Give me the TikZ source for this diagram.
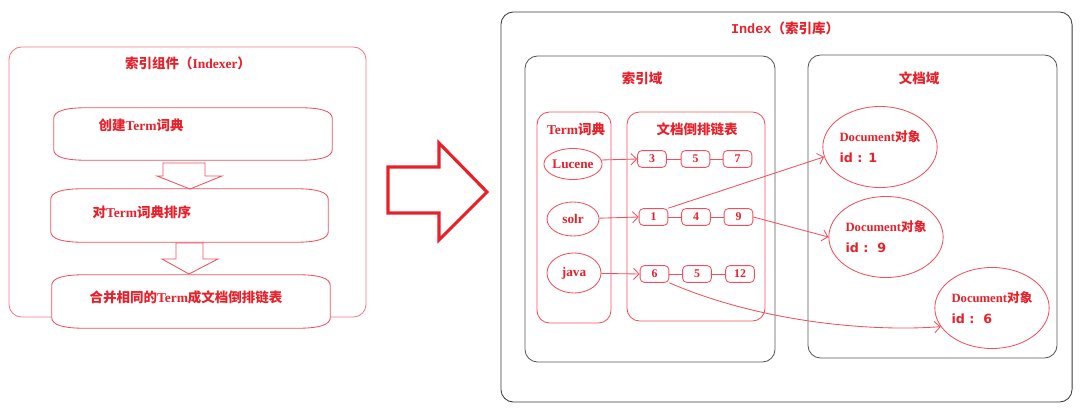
\documentclass[tikz,border=0pt]{standalone}
\usepackage{fontspec}
\setmainfont{Liberation Serif}
\newfontfamily\cjk{Noto Sans CJK SC}
\newfontfamily\idfont{DejaVu Sans}
\newfontfamily\monofont{Liberation Mono}
\definecolor{idxred}{HTML}{E8202A}
\definecolor{idxline}{HTML}{F0505E}
\definecolor{idxpink}{HTML}{F27B86}
\definecolor{idxgray}{HTML}{3A3A3A}
\usetikzlibrary{shapes.geometric,arrows.meta,calc}

% flow box with bowed top and bottom
\newcommand{\scrollbox}[1]{%
  \draw[draw=idxline, fill=white, line width=0.6pt]
    ($(#1.north west)+(0,11)$) .. controls ($(#1.north west)+(0,3)$) and ($(#1.north west)+(12,0)$) .. ($(#1.north west)+(34,0)$)
    -- ($(#1.north east)+(-34,0)$) .. controls ($(#1.north east)+(-12,0)$) and ($(#1.north east)+(0,3)$) .. ($(#1.north east)+(0,11)$)
    -- ($(#1.south east)+(0,-11)$) .. controls ($(#1.south east)+(0,-3)$) and ($(#1.south east)+(-12,0)$) .. ($(#1.south east)+(-34,0)$)
    -- ($(#1.south west)+(34,0)$) .. controls ($(#1.south west)+(12,0)$) and ($(#1.south west)+(0,-3)$) .. ($(#1.south west)+(0,-11)$)
    -- cycle;}

\begin{document}
\begin{tikzpicture}[
  x=0.025cm, y=-0.025cm,
  lbl/.style={font=\fontsize{9.6}{11}\selectfont\bfseries, text=idxred, inner sep=1pt},
  frame/.style={draw=idxgray, rounded corners=9pt, line width=0.6pt},
  redframe/.style={draw=idxline, rounded corners=9pt, line width=0.6pt},
  term/.style={ellipse, draw=idxline, line width=0.6pt, inner sep=0pt,
    font=\fontsize{9.4}{11}\selectfont\bfseries, text=idxred},
  post/.style={draw=idxline, rounded corners=3pt, line width=0.6pt, inner sep=0pt,
    minimum width=0.72cm, minimum height=0.42cm, font=\fontsize{8.4}{10}\selectfont\bfseries, text=idxred},
  doc/.style={ellipse, draw=idxline, line width=0.6pt, minimum width=2.775cm, minimum height=2.025cm,
    inner sep=0pt, align=left, font=\fontsize{9}{15}\selectfont\bfseries, text=idxred},
  link/.style={draw=idxline, line width=0.6pt},
  ptr/.style={-{Straight Barb[length=4pt,width=8pt]}, draw=idxline, line width=0.6pt},
  hollow/.style={draw=idxline, line width=0.6pt, line join=miter}
]
  \useasboundingbox (0,0) rectangle (1080,412);

  % Left: indexer steps
  \node[redframe, draw=idxpink, minimum width=8.925cm, minimum height=6.75cm] (indexer) at (187.5,182) {};
  \node[lbl] (indexertitle) at (188,63) {{\cjk 索引组件（}Indexer{\cjk ）}};

  \node[minimum width=6.95cm, minimum height=1.3cm] (s1) at (193,134) {};
  \node[minimum width=6.925cm, minimum height=1.325cm] (s2) at (189.5,215.5) {};
  \node[minimum width=6.95cm, minimum height=1.325cm] (s3) at (191,301.5) {};
  \scrollbox{s1}
  \scrollbox{s2}
  \scrollbox{s3}
  \node[lbl, anchor=west] (s1txt) at (97,125) {{\cjk 创建}Term{\cjk 词典}};
  \node[lbl, anchor=west] (s2txt) at (91,212) {{\cjk 对}Term{\cjk 词典排序}};
  \node[lbl] (s3txt) at (186,297) {{\cjk 合并相同的}Term{\cjk 成文档倒排链表}};

  % hollow step arrows
  \draw[hollow] (163,163) -- (205,163) -- (205,176) -- (222,176) -- (190,189)
    -- (157,176) -- (163,176) -- cycle;
  \draw[hollow] (176,243) -- (203,243) -- (203,259) -- (218,259) -- (189,274)
    -- (162,259) -- (176,259) -- cycle;

  % big arrow
  \draw[draw=idxred, line width=2.2pt, line join=miter] (388,167) -- (439,167) -- (439,143)
    -- (487,192) -- (439,240) -- (439,213) -- (388,213) -- cycle;

  % Right: index
  \node[frame, minimum width=14.275cm, minimum height=9.75cm] (index) at (786.5,207) {};
  \node[lbl] (indextitle) at (785,28) {{\monofont Index}{\cjk （索引库）}};

  \node[frame, draw=idxgray!85, minimum width=6.25cm, minimum height=7.65cm] (idxfield) at (650,209) {};
  \node[lbl] (idxfieldtitle) at (642,78) {\cjk 索引域};
  \node[frame, draw=idxgray!85, minimum width=6.225cm, minimum height=7.575cm] (docfield) at (932.5,206.5) {};
  \node[lbl] (docfieldtitle) at (919,78) {\cjk 文档域};

  \node[redframe, minimum width=1.85cm, minimum height=5.275cm] (termbox) at (574,217.5) {};
  \node[lbl] (termtitle) at (576,129) {Term{\cjk 词典}};
  \node[redframe, minimum width=3.45cm, minimum height=5.225cm] (postbox) at (696,216.5) {};
  \node[lbl] (posttitle) at (697,129) {\cjk 文档倒排链表};

  % terms
  \node[term, minimum width=1.2cm, minimum height=0.775cm] (lucene) at (573,164) {Lucene};
  \node[term, minimum width=1.3cm, minimum height=0.85cm] (solr) at (573,219) {solr};
  \node[term, minimum width=1.35cm, minimum height=1.0cm] (java) at (574,273) {java};

  % posting lists
  \node[post] (p11) at (652,159) {3};
  \node[post] (p12) at (695.5,159) {5};
  \node[post] (p13) at (737.5,159) {7};
  \node[post] (p21) at (653.5,217) {1};
  \node[post] (p22) at (696,217) {4};
  \node[post] (p23) at (738.5,217) {9};
  \node[post] (p31) at (654.5,274) {6};
  \node[post] (p32) at (697,274) {5};
  \node[post] (p33) at (740,274) {12};

  \draw[link] (p11) -- (p12);
  \draw[link] (p12) -- (p13);
  \draw[link] (p21) -- (p22);
  \draw[link] (p22) -- (p23);
  \draw[link] (p31) -- (p32);
  \draw[link] (p32) -- (p33);

  \draw[ptr] (lucene.8) -- (p11.west);
  \draw[ptr] (solr) -- (p21.west);
  \draw[ptr] (java) -- (p31.west);

  % documents
  \node[doc] (doc1) at (880,147) {Document{\cjk 对象}\\{\idfont id : 1}};
  \node[doc] (doc9) at (886,237) {Document{\cjk 对象}\\{\idfont id :\ \ 9}};
  \node[doc] (doc6) at (992,308) {Document{\cjk 对象}\\{\idfont id :\ \ 6}};

  \draw[ptr] (p21.north east) -- (doc1.190);
  \draw[ptr] (p23.east) -- (doc9.west);
  \draw[ptr] (p31.south east) .. controls (760,322) and (870,332) .. (doc6.200);
\end{tikzpicture}
\end{document}
